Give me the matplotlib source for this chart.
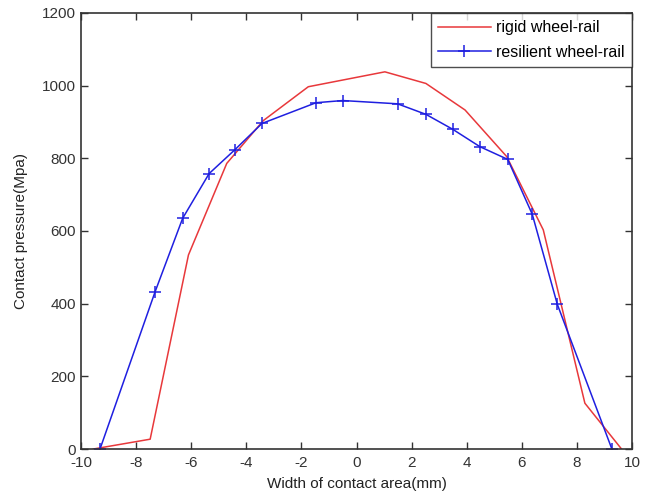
import matplotlib
matplotlib.use("Agg")
import matplotlib.pyplot as plt

# contact pressure distribution across contact width
rigid_x = [-9.55, -7.49, -6.1, -4.71, -3.38, -1.75, 1.03, 2.52, 3.94, 5.45, 6.78, 8.29, 9.62]
rigid_p = [0, 27, 534, 786, 904, 997, 1038, 1006, 933, 805, 603, 126, 0]

resil_x = [-9.31, -7.31, -6.31, -5.35, -4.41, -3.43, -1.47, -0.5, 1.49, 2.52,
           3.49, 4.48, 5.49, 6.38, 7.29, 9.27]
resil_p = [0, 433, 635, 758, 824, 896, 953, 959, 950, 921,
           880, 832, 797, 646, 398, 0]

x_ticks = [-10, -8, -6, -4, -2, 0, 2, 4, 6, 8, 10]
y_ticks = [0, 200, 400, 600, 800, 1000, 1200]

plt.rcParams['font.family'] = ['Liberation Sans', 'DejaVu Sans']
plt.rcParams['axes.unicode_minus'] = False

fig = plt.figure(figsize=(6.56, 4.99), dpi=100)
ax = fig.add_axes([0.1235, 0.1002, 0.8399, 0.8738])

ax.plot(rigid_x, rigid_p, color='#e8383b', lw=1.1, label='rigid wheel-rail')
ax.plot(resil_x, resil_p, color='#1f1fe0', lw=1.1, marker='+', ms=9, mew=1.1,
        label='resilient wheel-rail')

ax.set_xlim(-10, 10)
ax.set_ylim(0, 1200)
ax.set_xticks(x_ticks)
ax.set_yticks(y_ticks)
ax.tick_params(direction='in', top=True, right=True, labelsize=11,
               colors='#333333', length=5, width=1)
ax.tick_params(axis='x', pad=5)
for s in ax.spines.values():
    s.set_color('#333333')
    s.set_linewidth(1.2)

ax.set_xlabel('Width of contact area(mm)', fontsize=11, color='#222222', labelpad=5)
ax.set_ylabel('Contact pressure(Mpa)', fontsize=11, color='#222222', labelpad=10)

leg = ax.legend(loc='upper right', fontsize=11.5, frameon=True, fancybox=False,
                borderaxespad=0, handlelength=3.3, handletextpad=0.35,
                borderpad=0.45, labelspacing=0.6)
leg.get_frame().set_edgecolor('#222222')
leg.get_frame().set_linewidth(1.0)

fig.savefig('out.png', dpi=100)
